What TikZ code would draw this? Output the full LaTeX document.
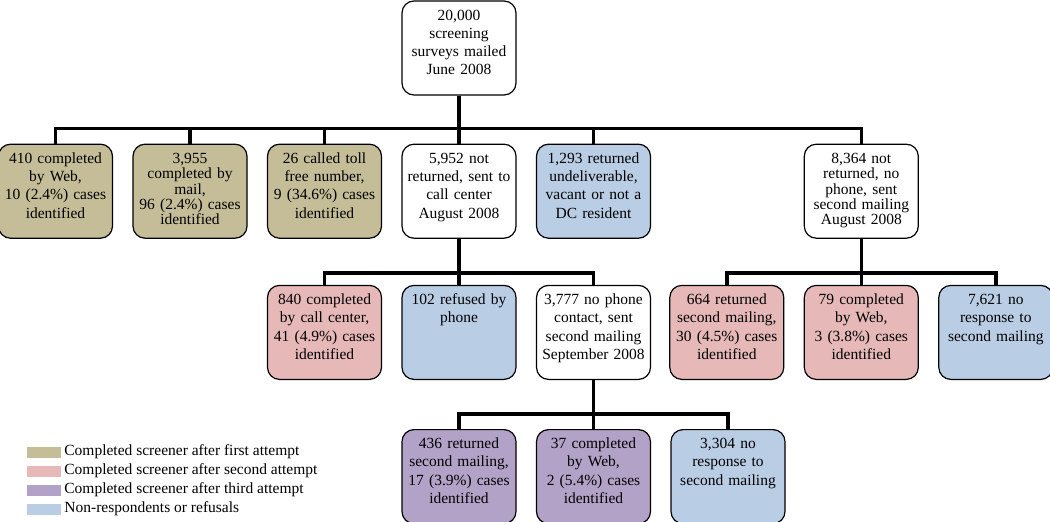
\documentclass[tikz,border=0pt]{standalone}
\usepackage{fontspec}
\setmainfont{Liberation Serif}
\usepackage{tikz}
\usetikzlibrary{shapes,positioning}
\definecolor{tan}{HTML}{C4BD97}
\definecolor{pink}{HTML}{E6B9B8}
\definecolor{lilac}{HTML}{B3A2C7}
\definecolor{paleblue}{HTML}{B9CDE5}
\tikzstyle{openbox} = [rectangle, rounded corners=12pt, draw=black, line width=1.2pt, fill=white, text=black, align=center, text width=106pt, inner xsep=4pt, inner ysep=7pt, text height=12pt, text depth=68pt, font=\fontsize{15.5}{18.3}\selectfont]
\tikzstyle{firstbox} = [openbox, fill=tan]
\tikzstyle{secondbox} = [openbox, fill=pink]
\tikzstyle{thirdbox} = [openbox, fill=lilac]
\tikzstyle{nrbox} = [openbox, fill=paleblue]
\tikzstyle{squeezed} = [font=\fontsize{15.5}{15.4}\selectfont]
\tikzstyle{legendbox} = [rectangle, draw=none, inner sep=0pt, minimum width=34pt, minimum height=11pt]
\tikzstyle{textonly} = [draw=none, fill=none, inner sep=0pt, font=\fontsize{15.5}{18}\selectfont]
\tikzstyle{tedge}  = [draw, line width=3.5pt]

\begin{document}
\begin{tikzpicture}
\useasboundingbox (0pt,0pt) rectangle (1050pt,-522pt);
%image
\node[openbox] (mail) at (459pt,-48pt) {20,000\\ screening\\ surveys mailed\\ June 2008};

\node[openbox, below = 48pt of mail] (callctr) {5,952 not\\ returned, sent to\\ call center\\ August 2008};
\node[firstbox, left = 19.3pt of callctr] (toll) {26 called toll\\ free number,\\ 9 (34.6\%) cases\\ identified};
\node[firstbox, squeezed, left = 19.3pt of toll] (bymail) {3,955\\ completed by\\ mail,\\ 96 (2.4\%) cases\\ identified};
\node[firstbox, left = 19.3pt of bymail] (byweb) {410 completed\\ by Web,\\ 10 (2.4\%) cases\\ identified};
\node[nrbox, right = 19.3pt of callctr] (undeliv) {1,293 returned\\ undeliverable,\\ vacant or not a\\ DC resident};
\node[openbox, squeezed, right = 152.6pt of undeliv] (nophone) {8,364 not\\ returned, no\\ phone, sent\\ second mailing\\ August 2008};

\node[nrbox, below = 46pt of callctr] (refused) {102 refused by\\ phone};
\node[secondbox, left = 19.3pt of refused] (byphone) {840 completed\\ by call center,\\ 41 (4.9\%) cases\\ identified};
\node[openbox, right = 19.3pt of refused] (nocontact) {3,777 no phone\\ contact, sent\\ second mailing\\ September 2008};

\node[secondbox, below = 46pt of nophone] (webtwo) {79 completed\\ by Web,\\ 3 (3.8\%) cases\\ identified};
\node[secondbox, left = 19.3pt of webtwo] (mailtwo) {664 returned\\ second mailing,\\ 30 (4.5\%) cases\\ identified};
\node[nrbox, right = 19.3pt of webtwo] (noresptwo) {7,621 no\\ response to\\ second mailing};

\node[thirdbox, below = 49pt of nocontact] (webthree) {37 completed\\ by Web,\\ 2 (5.4\%) cases\\ identified};
\node[thirdbox, left = 19.3pt of webthree] (mailthree) {436 returned\\ second mailing,\\ 17 (3.9\%) cases\\ identified};
\node[nrbox, right = 19.3pt of webthree] (noresp) {3,304 no\\ response to\\ second mailing};

%legend
\node[legendbox, fill=tan] (lgone) at (44pt,-452pt) {};
\node[legendbox, fill=pink, below = 7.6pt of lgone] (lgtwo) {};
\node[legendbox, fill=lilac, below = 7.6pt of lgtwo] (lgthree) {};
\node[legendbox, fill=paleblue, below = 7.6pt of lgthree] (lgfour) {};
\node[textonly, right = 3pt of lgone] (lgonetxt) {Completed screener after first attempt};
\node[textonly, right = 3pt of lgtwo] (lgtwotxt) {Completed screener after second attempt};
\node[textonly, right = 3pt of lgthree] (lgthreetxt) {Completed screener after third attempt};
\node[textonly, right = 3pt of lgfour] (lgfourtxt) {Non-respondents or refusals};

%paths
\path[tedge] (mail.south) -- ++(0,-33pt) -| (byweb.north);
\path[tedge] (mail.south) -- ++(0,-33pt) -| (bymail.north);
\path[tedge] (mail.south) -- ++(0,-33pt) -| (toll.north);
\path[tedge] (mail.south) -- (callctr.north);
\path[tedge] (mail.south) -- ++(0,-33pt) -| (undeliv.north);
\path[tedge] (mail.south) -- ++(0,-33pt) -| (nophone.north);

\path[tedge] (callctr.south) -- ++(0,-34pt) -| (byphone.north);
\path[tedge] (callctr.south) -- (refused.north);
\path[tedge] (callctr.south) -- ++(0,-34pt) -| (nocontact.north);

\path[tedge] (nophone.south) -- ++(0,-34pt) -| (mailtwo.north);
\path[tedge] (nophone.south) -- (webtwo.north);
\path[tedge] (nophone.south) -- ++(0,-34pt) -| (noresptwo.north);

\path[tedge] (nocontact.south) -- ++(0,-34pt) -| (mailthree.north);
\path[tedge] (nocontact.south) -- (webthree.north);
\path[tedge] (nocontact.south) -- ++(0,-34pt) -| (noresp.north);

\end{tikzpicture}
\end{document}
